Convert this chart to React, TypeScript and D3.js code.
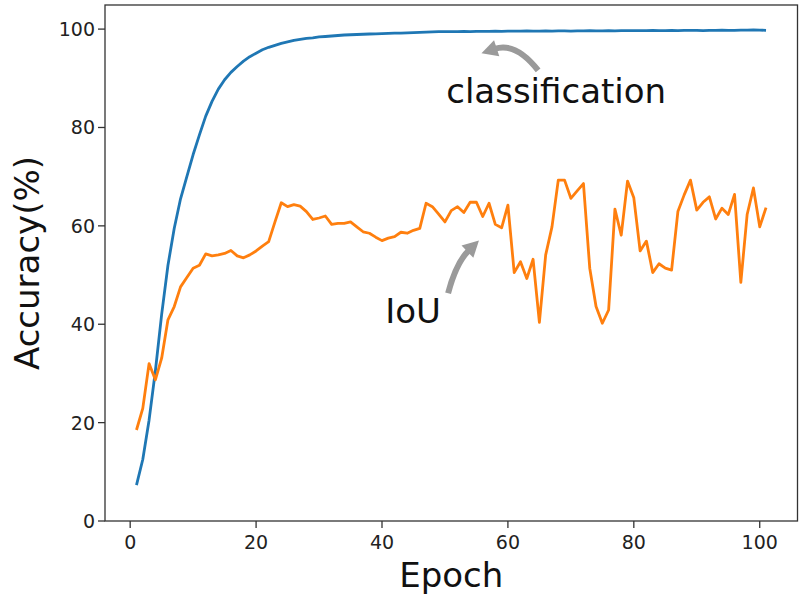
import * as d3 from "d3";

const epochs = d3.range(1, 102);

const classificationAcc = [
  7.3, 12.5, 20.5, 30.5, 42, 52, 59.5, 65.5, 70, 74.5,
  78.5, 82.3, 85.3, 87.8, 89.7, 91.2, 92.4, 93.5, 94.4, 95.1,
  95.8, 96.3, 96.7, 97.1, 97.4, 97.7, 97.9, 98.1, 98.2, 98.4,
  98.5, 98.6, 98.7, 98.8, 98.85, 98.9, 98.95, 99.0, 99.05, 99.1,
  99.15, 99.2, 99.2, 99.25, 99.3, 99.35, 99.4, 99.45, 99.5, 99.5,
  99.5, 99.5, 99.55, 99.5, 99.55, 99.55, 99.55, 99.6, 99.55, 99.6,
  99.6, 99.6, 99.65, 99.6, 99.6, 99.65, 99.6, 99.65, 99.65, 99.6,
  99.65, 99.65, 99.7, 99.65, 99.65, 99.7, 99.65, 99.7, 99.7, 99.7,
  99.7, 99.7, 99.75, 99.7, 99.7, 99.75, 99.7, 99.75, 99.75, 99.75,
  99.7, 99.75, 99.75, 99.8, 99.75, 99.75, 99.8, 99.8, 99.85, 99.8,
  99.75,
];

const iouAcc = [
  18.5, 22.9, 32.0, 28.7, 33.1, 40.9, 43.6, 47.6, 49.5, 51.4,
  52.0, 54.3, 53.9, 54.1, 54.4, 55.0, 53.9, 53.5, 54.1, 54.9,
  55.9, 56.8, 60.8, 64.7, 63.9, 64.3, 64.0, 62.9, 61.3, 61.6,
  62.0, 60.3, 60.5, 60.5, 60.8, 59.8, 58.8, 58.5, 57.7, 57.0,
  57.5, 57.8, 58.7, 58.5, 59.1, 59.5, 64.6, 63.9, 62.4, 60.8,
  63.1, 63.9, 62.7, 64.8, 64.8, 61.9, 64.6, 60.3, 59.6, 64.2,
  50.5, 52.7, 49.3, 53.2, 40.4, 54.1, 59.8, 69.3, 69.3, 65.6,
  67.1, 68.6, 51.4, 43.6, 40.2, 42.9, 63.4, 58.1, 69.1, 65.7,
  54.9, 56.9, 50.5, 52.3, 51.4, 51.0, 62.9, 66.3, 69.3, 63.2,
  64.8, 65.9, 61.4, 63.6, 62.3, 66.4, 48.5, 62.3, 67.7, 59.8,
  63.7,
];

const xTicks = [0, 20, 40, 60, 80, 100];
const yTicks = [0, 20, 40, 60, 80, 100];

// annotation anchors in data units: [epoch, accuracy]
const notes = [
  { label: "classification", text: [50.2, 84.9], tail: [64.8, 91.6], head: [55.8, 95.1], bend: 0.35 },
  { label: "IoU", text: [40.5, 40.3], tail: [50.5, 46.3], head: [55.4, 57.0], bend: -0.14 },
];

const W = 801;
const H = 600;
const margin = { left: 105, right: 3.5, top: 5, bottom: 79 };
const font = "DejaVu Sans, Liberation Sans, sans-serif";

function arrowShapes(p0: number[], p2: number[], bend: number) {
  const dx = p2[0] - p0[0];
  const dy = p2[1] - p0[1];
  const len = Math.hypot(dx, dy);
  const nx = -dy / len;
  const ny = dx / len;
  const c = [(p0[0] + p2[0]) / 2 + nx * bend * len, (p0[1] + p2[1]) / 2 + ny * bend * len];
  let tx = p2[0] - c[0];
  let ty = p2[1] - c[1];
  const tl = Math.hypot(tx, ty);
  tx /= tl;
  ty /= tl;
  const headLen = 16;
  const headW = 17;
  const base = [p2[0] - tx * headLen, p2[1] - ty * headLen];
  const body = d3.path();
  body.moveTo(p0[0], p0[1]);
  body.quadraticCurveTo(c[0], c[1], base[0] + tx * 2, base[1] + ty * 2);
  const head = d3.path();
  head.moveTo(p2[0], p2[1]);
  head.lineTo(base[0] - ty * headW / 2, base[1] + tx * headW / 2);
  head.lineTo(base[0] + ty * headW / 2, base[1] - tx * headW / 2);
  head.closePath();
  return { body: body.toString(), head: head.toString() };
}

function App() {
  const x = d3.scaleLinear().domain([-4, 106]).range([margin.left, W - margin.right]);
  const y = d3.scaleLinear().domain([0, 104.9]).range([H - margin.bottom, margin.top]);

  const line = d3.line<number>()
    .x((_, i) => x(epochs[i]))
    .y(d => y(d));

  const x0 = margin.left;
  const x1 = W - margin.right;
  const y0 = H - margin.bottom;
  const y1 = margin.top;

  return (
    <svg width={W} height={H} style={{ position: "absolute", left: 0, top: 0, background: "#fff" }}>
      <rect x={0} y={0} width={W} height={H} fill="#fff" />
      <path d={line(classificationAcc) ?? ""} fill="none" stroke="#1f77b4" strokeWidth={2.8} strokeLinejoin="round" />
      <path d={line(iouAcc) ?? ""} fill="none" stroke="#ff7f0e" strokeWidth={2.8} strokeLinejoin="round" />

      <rect x={x0} y={y1} width={x1 - x0} height={y0 - y1} fill="none" stroke="#333" strokeWidth={1.3} />

      {xTicks.map(t => (
        <g key={"x" + t}>
          <line x1={x(t)} x2={x(t)} y1={y0} y2={y0 + 7} stroke="#333" strokeWidth={1.3} />
          <text x={x(t)} y={y0 + 28} textAnchor="middle" fontFamily={font} fontSize={19} fill="#222">{t}</text>
        </g>
      ))}
      {yTicks.map(t => (
        <g key={"y" + t}>
          <line x1={x0 - 7} x2={x0} y1={y(t)} y2={y(t)} stroke="#333" strokeWidth={1.3} />
          <text x={x0 - 10} y={y(t) + 7} textAnchor="end" fontFamily={font} fontSize={19} fill="#222">{t}</text>
        </g>
      ))}

      <text x={(x0 + x1) / 2} y={587} textAnchor="middle" fontFamily={font} fontSize={34} fill="#111">Epoch</text>
      <text transform={`translate(39,${(y0 + y1) / 2}) rotate(-90)`} textAnchor="middle" fontFamily={font} fontSize={34} fill="#111">Accuracy(%)</text>

      {notes.map(n => {
        const s = arrowShapes([x(n.tail[0]), y(n.tail[1])], [x(n.head[0]), y(n.head[1])], n.bend);
        return (
          <g key={n.label}>
            <path d={s.body} fill="none" stroke="#9a9a9a" strokeWidth={6} />
            <path d={s.head} fill="#9a9a9a" />
            <text x={x(n.text[0])} y={y(n.text[1])} fontFamily={font} fontSize={34} fill="#111">{n.label}</text>
          </g>
        );
      })}
    </svg>
  );
}

export default App;
